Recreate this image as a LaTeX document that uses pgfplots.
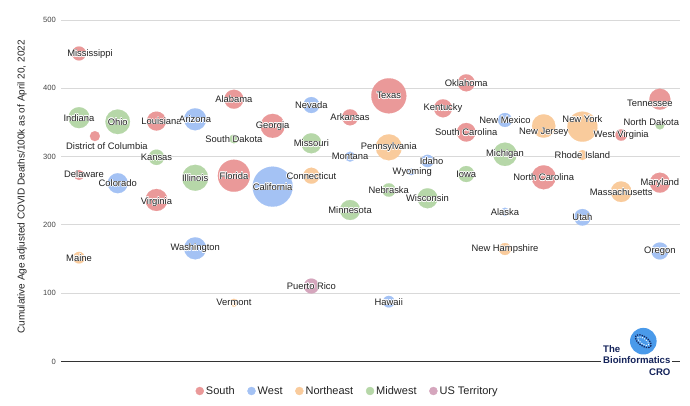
\documentclass[border=0pt]{standalone}
\usepackage{fontspec}
\setmainfont{Liberation Sans}
\usepackage{pgfplots}
\usepackage{pgfplotstable}
\pgfplotsset{compat=1.18}
\definecolor{southc}{HTML}{EA9999}
\definecolor{westc}{HTML}{A4C2F4}
\definecolor{nec}{HTML}{F9CB9C}
\definecolor{mwc}{HTML}{B6D7A8}
\definecolor{terrc}{HTML}{D5A6BD}
\definecolor{gridc}{HTML}{D9D9D9}
\definecolor{basec}{HTML}{333333}
\definecolor{labc}{HTML}{222222}
\definecolor{tickc}{HTML}{444444}
\definecolor{navy}{HTML}{14235A}
\definecolor{logob}{HTML}{4A9AEA}

\newcommand\halo[1]{\leavevmode
 \rlap{\kern0.55pt\textcolor{white}{#1}}%
 \rlap{\kern-0.55pt\textcolor{white}{#1}}%
 \rlap{\raisebox{0.55pt}{\textcolor{white}{#1}}}%
 \rlap{\raisebox{-0.55pt}{\textcolor{white}{#1}}}%
 \rlap{\kern0.4pt\raisebox{0.4pt}{\textcolor{white}{#1}}}%
 \rlap{\kern-0.4pt\raisebox{0.4pt}{\textcolor{white}{#1}}}%
 \rlap{\kern0.4pt\raisebox{-0.4pt}{\textcolor{white}{#1}}}%
 \rlap{\kern-0.4pt\raisebox{-0.4pt}{\textcolor{white}{#1}}}%
 \textcolor{labc}{#1}}

% x = column position, y = deaths/100k, r = bubble radius (pt), dx/dy = label shift
\pgfplotstableread[col sep=comma]{
x,y,r,dx,dy,label
1,451,7,11,-1,Mississippi
1.41,330,5,12,-9.7,District of Columbia
1,273,5,5,0.7,Delaware
3,352,9.5,5,0,Louisiana
3,236.5,11,0,-1.7,Virginia
5,384,9.5,0,0,Alabama
5,272,16,0,0,Florida
6,345,12,0,0,Georgia
8,357.5,8,0,0,Arkansas
9,389,17.5,0,0,Texas
10.4,370.7,9,0,0,Kentucky
11,408,8.5,0,0,Oklahoma
11,335.6,9.3,0,0,South Carolina
13,269.7,12,0,0,North Carolina
15,331.6,5.7,0,0,West Virginia
16,384,10.5,-10,-4.3,Tennessee
16,261.8,10,0,0,Maryland
}\south
\pgfplotstableread[col sep=comma]{
x,y,r,dx,dy,label
2,261,10,0,0,Colorado
4,354.6,11,0,0,Arizona
4,165.7,11,0,0,Washington
6,256,20,0,0,California
7,375.5,8,0,0,Nevada
8,299.9,5,0,0,Montana
9,87.6,5.8,0,0,Hawaii
10,293.6,6.2,4,0,Idaho
9.58,277.9,3.5,1,0,Wyoming
12,353.6,7,0,0,New Mexico
12,219.3,4,0,0,Alaska
14,211.1,8.3,0,0,Utah
16,161.8,8.5,0,0,Oregon
}\west
\pgfplotstableread[col sep=comma]{
x,y,r,dx,dy,label
1,152,5.8,0,0,Maine
5,86,4,0,0,Vermont
7,272,8,0,0,Connecticut
9,313.6,13,0,0,Pennsylvania
13,344.8,11.7,0,-6.3,New Jersey
14,343.8,15,0,7.7,New York
14,302.3,5,0,0,Rhode Island
15,248.6,10.3,0,0,Massachusetts
12,164.7,6,0,0,New Hampshire
}\northeast
\pgfplotstableread[col sep=comma]{
x,y,r,dx,dy,label
1,357,10.5,0,0,Indiana
2,351,12.3,0,0,Ohio
3,299,7.7,0,0,Kansas
4,269,13,0,0,Illinois
5,326,4.5,0,0,South Dakota
7,319.5,10,0,0,Missouri
8,221.8,10,0,0,Minnesota
9,251.1,6.7,0,0,Nebraska
10,239,10,0,0,Wisconsin
11,274.5,8,0,0,Iowa
12,303.4,11.7,0,0,Michigan
16,346.3,4.5,-8.5,3,North Dakota
}\midwest
\pgfplotstableread[col sep=comma]{
x,y,r,dx,dy,label
7,110.5,7.5,0,0,Puerto Rico
}\territory

\pgfplotsset{
  bubble/.style={scatter, only marks, mark=*, forget plot,
    color=#1, fill=#1,
    mark options={draw=#1, fill=#1, line width=0.1pt},
    scatter/use mapped color={draw=#1, fill=#1},
    visualization depends on={\thisrow{r}\as\rr},
    scatter/@pre marker code/.append style={/tikz/mark size=\rr pt}},
  lab/.style={only marks, mark=none, forget plot,
    point meta=explicit symbolic,
    visualization depends on={\thisrow{dx}\as\dx},
    visualization depends on={\thisrow{dy}\as\dy},
    nodes near coords={\halo{\pgfplotspointmeta}},
    nodes near coords style={anchor=center, inner sep=0pt,
      font=\fontsize{9.4}{11}\selectfont, xshift=\dx pt, yshift=\dy pt}},
}

\begin{document}
\begin{tikzpicture}
\useasboundingbox (-61pt,-44.5pt) rectangle (629pt,361.5pt);
\begin{axis}[
  at={(0pt,0pt)}, anchor=south west,
  scale only axis, width=619pt, height=341.5pt,
  xmin=0.535, xmax=16.52, ymin=0, ymax=500,
  clip=false,
  axis line style={draw=none},
  major tick length=0pt,
  xtick=\empty,
  ytick={100,200,300,400,500},
  extra y ticks={0},
  extra y tick style={grid style={color=basec, line width=1pt}},
  ymajorgrids,
  grid style={color=gridc, line width=0.9pt},
  /pgf/number format/assume math mode=true,
  yticklabel style={font=\fontsize{7.6}{9}\selectfont, text=tickc, anchor=east, inner sep=0pt, xshift=-5pt},
  legend style={draw=none, fill=none, at={(0.2122,-0.0864)}, anchor=west,
    legend columns=-1, font=\fontsize{11}{13}\selectfont, text=labc,
    /tikz/every even column/.append style={column sep=10.6pt}},
]
\addplot[bubble=southc] table[x=x,y=y]{\south};
\addplot[bubble=westc] table[x=x,y=y]{\west};
\addplot[bubble=nec] table[x=x,y=y]{\northeast};
\addplot[bubble=mwc] table[x=x,y=y]{\midwest};
\addplot[bubble=terrc] table[x=x,y=y]{\territory};

\addplot[lab] table[x=x,y=y,meta=label]{\south};
\addplot[lab] table[x=x,y=y,meta=label]{\west};
\addplot[lab] table[x=x,y=y,meta=label]{\northeast};
\addplot[lab] table[x=x,y=y,meta=label]{\midwest};
\addplot[lab] table[x=x,y=y,meta=label]{\territory};

\addlegendimage{legend image code/.code={\fill[southc] (2pt,0pt) circle (4pt);}}
\addlegendentry{South}
\addlegendimage{legend image code/.code={\fill[westc] (2pt,0pt) circle (4pt);}}
\addlegendentry{West}
\addlegendimage{legend image code/.code={\fill[nec] (2pt,0pt) circle (4pt);}}
\addlegendentry{Northeast}
\addlegendimage{legend image code/.code={\fill[mwc] (2pt,0pt) circle (4pt);}}
\addlegendentry{Midwest}
\addlegendimage{legend image code/.code={\fill[terrc] (2pt,0pt) circle (4pt);}}
\addlegendentry{US Territory}
\end{axis}

% y axis title
\node[rotate=90, font=\fontsize{10}{12}\selectfont, text=labc] at (-39pt,174.5pt)
  {Cumulative Age adjusted COVID Deaths/100k as of April 20, 2022};

% logo
\node[fill=white, inner xsep=2pt, inner ysep=1pt, anchor=west, align=left,
  font=\fontsize{9.6}{11.5}\selectfont\bfseries, text=navy] at (540pt,0pt)
  {\begin{tabular}{@{}l@{}}The\\Bioinformatics\\\hfill CRO\end{tabular}};
\fill[logob] (582.3pt,20.3pt) circle (13.3pt);
\draw[navy, line width=1.3pt, dash pattern=on 1.3pt off 1.1pt, rotate around={-35:(582.3pt,20.3pt)}]
  (582.3pt,20.3pt) ellipse (9pt and 4.6pt);
\draw[white, line width=1pt, dash pattern=on 1pt off 1.4pt, rotate around={-35:(582.3pt,20.3pt)}]
  (582.3pt,20.3pt) ellipse (6.5pt and 2.6pt);
\end{tikzpicture}
\end{document}
